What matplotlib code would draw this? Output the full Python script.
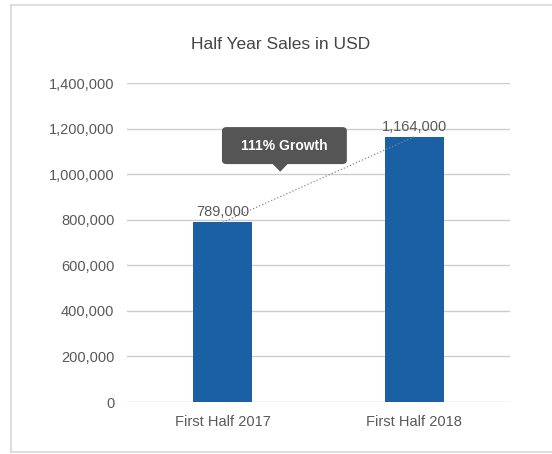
import matplotlib.pyplot as plt
from matplotlib.patches import FancyBboxPatch, Polygon
from matplotlib.lines import Line2D
from matplotlib.ticker import FuncFormatter

plt.rcParams['font.family'] = ['Liberation Sans', 'DejaVu Sans']

# Data
categories = ['First Half 2017', 'First Half 2018']
sales = [789000, 1164000]
value_labels = ['789,000', '1,164,000']
growth_text = '111% Growth'
title = 'Half Year Sales in USD'

bar_color = '#1b5fa4'
text_color = '#595959'
grid_color = '#cccccc'

fig = plt.figure(figsize=(5.52, 4.54), dpi=100)
ax = fig.add_axes([0.230, 0.1145, 0.694, 0.7025])

x = range(len(categories))
ax.bar(x, sales, width=0.31, color=bar_color, zorder=3)

# value labels above the bars
for xi, v, lab in zip(x, sales, value_labels):
    ax.annotate(lab, (xi, v), xytext=(0, 2), textcoords='offset points',
                ha='center', va='bottom', fontsize=10.5, color=text_color, zorder=4)

# dotted trend line between bar tops
ax.plot(list(x), sales, linestyle=':', color='#888888', linewidth=0.9, zorder=4)

ax.set_xlim(-0.5, 1.5)
ax.set_ylim(0, 1400000)
ax.set_yticks(range(0, 1400001, 200000))
ax.yaxis.set_major_formatter(FuncFormatter(lambda v, p: f'{int(v):,}'))
ax.set_xticks(list(x))
ax.set_xticklabels(categories)
ax.tick_params(axis='both', length=0, labelsize=10.5, labelcolor=text_color)
ax.tick_params(axis='y', pad=9)
ax.tick_params(axis='x', pad=9)
ax.grid(axis='y', color=grid_color, linewidth=1, zorder=0)
for s in ax.spines.values():
    s.set_visible(False)

# title centred on the chart frame rather than the plot area
fig.text(0.509, 0.903, title, ha='center', va='center', fontsize=12.5, color='#444444')

# growth tooltip
box = FancyBboxPatch((0.248, 0.746), 0.326, 0.116, boxstyle='round,pad=0,rounding_size=0.012',
                     transform=ax.transAxes, facecolor='#555555', edgecolor='none', zorder=5)
ax.add_patch(box)
tri = Polygon([(0.38, 0.747), (0.42, 0.747), (0.40, 0.722)], closed=True,
              transform=ax.transAxes, facecolor='#555555', edgecolor='none', zorder=5)
ax.add_patch(tri)
ax.text(0.411, 0.804, growth_text, transform=ax.transAxes, ha='center', va='center',
        fontsize=10, fontweight='bold', color='white', zorder=6)

# light frame around the chart
frame_kw = dict(color='#d8d8d8', linewidth=1.2, transform=fig.transFigure)
fig.add_artist(Line2D([0.020, 0.020], [0.004, 0.989], **frame_kw))
fig.add_artist(Line2D([0.020, 1.0], [0.989, 0.989], **frame_kw))
fig.add_artist(Line2D([0.020, 1.0], [0.004, 0.004], **frame_kw))

fig.savefig('out.png', dpi=100)
